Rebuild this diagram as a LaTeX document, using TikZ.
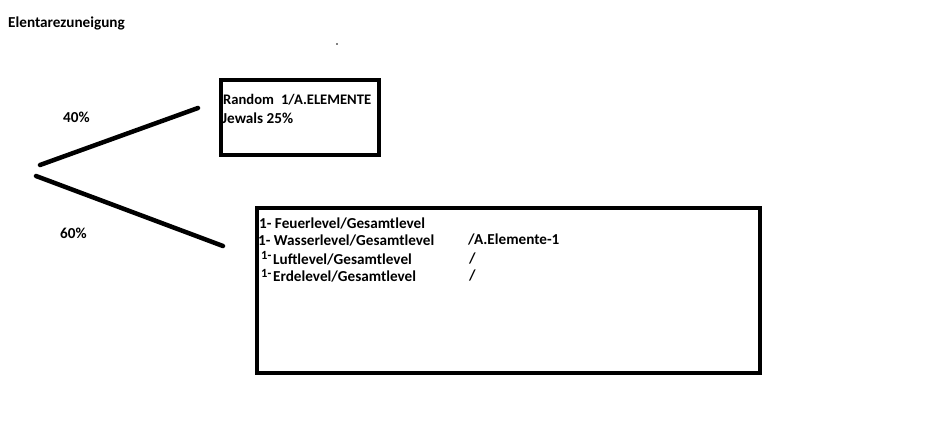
\documentclass[tikz,border=0pt]{standalone}
\usepackage{fontspec}
\setmainfont{Carlito}
\tikzset{
  lbl/.style={anchor=west, inner sep=0pt, font=\bfseries\fontsize{15.2}{17}\selectfont},
  sup/.style={anchor=west, inner sep=0pt, font=\bfseries\fontsize{12.5}{14}\selectfont},
  frame/.style={draw, line width=4pt},
  branch/.style={line width=4.5pt, line cap=round}
}
\begin{document}
\begin{tikzpicture}[x=1pt,y=-1pt]
\useasboundingbox (0,0) rectangle (929,426);
\node[lbl] (title) at (8,23){Elentarezuneigung};
\fill (337,44) circle (0.8);
% boxes
\draw[frame] (221,80) rectangle (379,155);
\draw[frame] (257,208) rectangle (760,373);
% branches
\coordinate (root1) at (40,165);
\coordinate (tip1) at (198,108);
\coordinate (root2) at (36,176);
\coordinate (tip2) at (223,246);
\draw[branch](root1) -- (tip1);
\draw[branch](root2) -- (tip2);
\node[lbl] (p40) at (63,117){40\%};
\node[lbl] (p60) at (60,233){60\%};
% random box
\node[lbl, font=\bfseries\fontsize{14.6}{17}\selectfont] (rnd) at (223,100){Random\hspace{7pt}1/A.ELEMENTE};
\node[lbl] (jew) at (222,118){Jewals 25\%};
% level box
\node[lbl] (feuer) at (259,224){1- Feuerlevel/Gesamtlevel};
\node[lbl] (wasser) at (258,241){1- Wasserlevel/Gesamtlevel};
\node[lbl] (elem) at (468,240){/A.Elemente-1};
\node[sup] (one3) at (261,255){1-};
\node[lbl] (luft) at (273,260){Luftlevel/Gesamtlevel};
\node[lbl] (sl3) at (469,259){/};
\node[sup] (one4) at (261,273){1-};
\node[lbl] (erde) at (273,277){Erdelevel/Gesamtlevel};
\node[lbl] (sl4) at (469,276){/};
\end{tikzpicture}
\end{document}
